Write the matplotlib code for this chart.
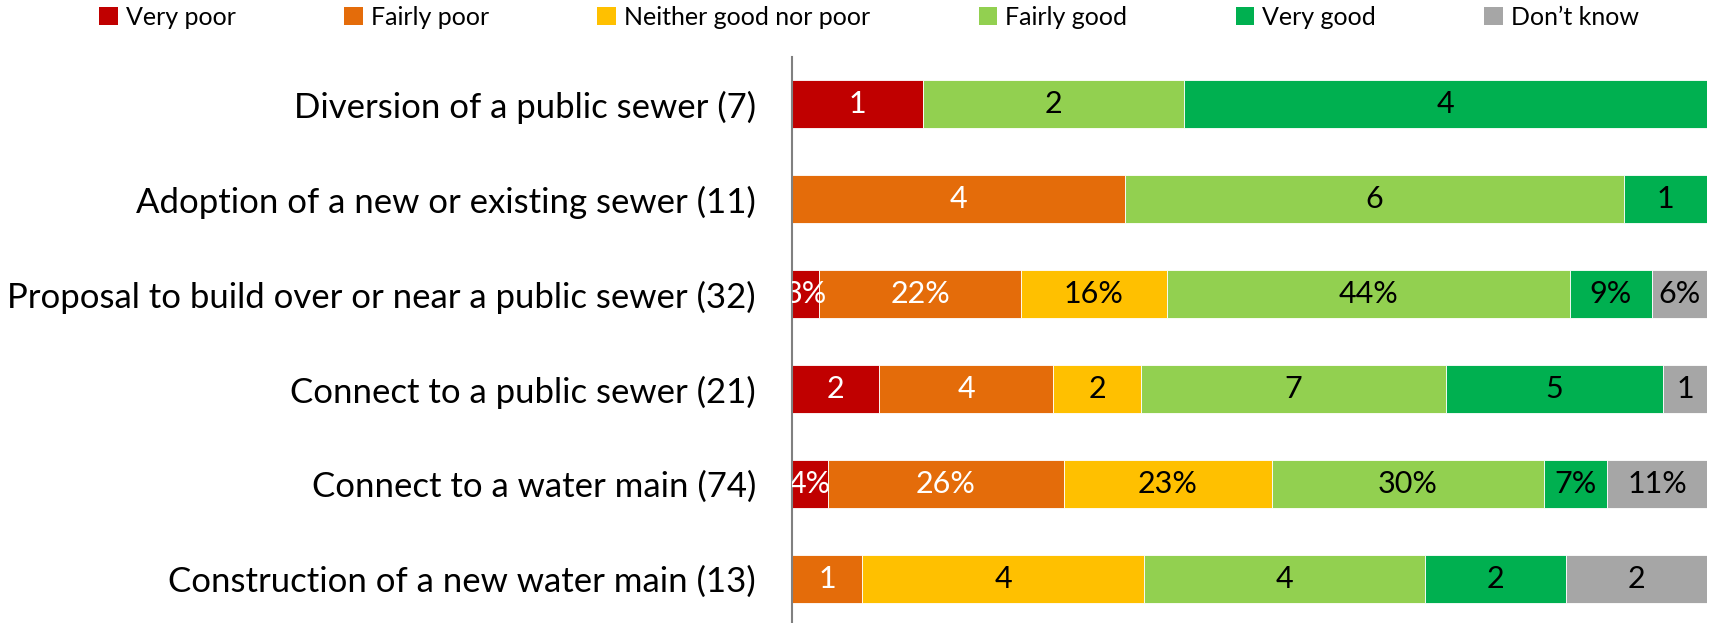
import matplotlib.pyplot as plt
import numpy as np
from matplotlib.patches import Patch

plt.rcParams['font.family'] = ['Lato', 'DejaVu Sans']

categories = ['Diversion of a public sewer (7)',
              'Adoption of a new or existing sewer (11)',
              'Proposal to build over or near a public sewer (32)',
              'Connect to a public sewer (21)',
              'Connect to a water main (74)',
              'Construction of a new water main (13)']
series = ['Very poor', 'Fairly poor', 'Neither good nor poor',
          'Fairly good', 'Very good', 'Don\u2019t know']
very_poor = [1, 0, 3, 2, 4, 0]
fairly_poor = [0, 4, 22, 4, 26, 1]
neither = [0, 0, 16, 2, 23, 4]
fairly_good = [2, 6, 44, 7, 30, 4]
very_good = [4, 1, 9, 5, 7, 2]
dont_know = [0, 0, 6, 1, 11, 2]
# rows labelled in percent rather than counts
is_percent = [False, False, True, False, True, False]

colors = ['#C00000', '#E46C0A', '#FFC000', '#92D050', '#00B050', '#A6A6A6']
text_colors = ['white', 'white', 'black', 'black', 'black', 'black']

values = np.array([very_poor, fairly_poor, neither, fairly_good,
                   very_good, dont_know], dtype=float)
totals = values.sum(axis=0)
shares = values / totals * 100

fig = plt.figure(figsize=(17.09, 6.23), dpi=100)
ax = fig.add_axes([792 / 1709, 0, 915 / 1709, 1 - 57 / 623])

y = np.arange(len(categories))
left = np.zeros(len(categories))
for k in range(len(series)):
    ax.barh(y, shares[k], left=left, height=0.5, color=colors[k],
            edgecolor='white', linewidth=0.6)
    for i in range(len(categories)):
        v = values[k][i]
        if v == 0:
            continue
        label = f'{int(v)}%' if is_percent[i] else f'{int(v)}'
        ax.text(left[i] + shares[k][i] / 2, y[i], label, ha='center',
                va='center', fontsize=22, color=text_colors[k], clip_on=True)
    left += shares[k]

ax.set_xlim(0, 100)
ax.set_ylim(5.463, -0.495)
ax.set_yticks(y)
ax.set_yticklabels(categories, fontsize=25)
ax.tick_params(axis='y', length=0, pad=26)
ax.set_xticks([])
for s in ['top', 'right', 'bottom']:
    ax.spines[s].set_visible(False)
ax.spines['left'].set_color('#808080')
ax.spines['left'].set_linewidth(1.5)

handles = [Patch(facecolor=c, label=s) for c, s in zip(colors, series)]
fig.legend(handles=handles, ncol=6, loc='center', bbox_to_anchor=(0.5085, 0.972),
           frameon=False, fontsize=18, handlelength=0.75, handleheight=0.75,
           handletextpad=0.3, columnspacing=4.35)

fig.savefig('out.png', dpi=100)
